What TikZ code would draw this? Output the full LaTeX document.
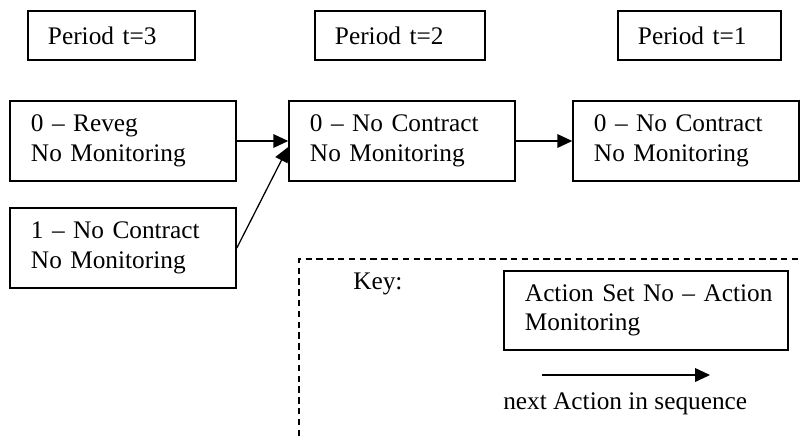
\documentclass[tikz,border=0pt]{standalone}
\usepackage{fontspec}
\setmainfont{Liberation Serif}
\usetikzlibrary{arrows.meta}

\begin{document}
\begin{tikzpicture}[x=0.025cm, y=-0.025cm,
    font=\fontsize{18}{21}\selectfont,
    period/.style={draw, line width=1.1pt, inner xsep=0.5cm, align=left, minimum height=1.225cm, text width=#1},
    act/.style={draw, line width=1.1pt, inner xsep=0.525cm, align=left, minimum height=2cm, text width=#1},
    act/.default=4.6cm,
    flow/.style={-{Triangle[length=0.37cm, width=0.34cm]}, line width=0.9pt}]
  \useasboundingbox (0,0) rectangle (801,436);
  % period headers
  \node[period=3.175cm] (p3) at (111.5,35.5) {Period t=3};
  \node[period=3.25cm]  (p2) at (400,35.5)   {Period t=2};
  \node[period=3.075cm] (p1) at (699.5,35.5) {Period t=1};
  % action sets per period
  \node[act] (a3) at (123,141) {0 -- Reveg\\No Monitoring};
  \node[act] (b3) at (123,248) {1 -- No Contract\\No Monitoring};
  \node[act] (a2) at (402,141) {0 -- No Contract\\No Monitoring};
  \node[act] (a1) at (686,141) {0 -- No Contract\\No Monitoring};
  \draw[flow] (a3) -- (a2);
  \draw[flow] (b3.east) -- ([yshift=-0.15cm]a2.west);
  \draw[flow] (a2) -- (a1);
  % key
  \coordinate (kb) at (299,436);
  \coordinate (kc) at (299,259);
  \coordinate (kr) at (801,259);
  \draw[line width=0.8pt, dash pattern=on 0.16cm off 0.11cm] (kb) -- (kc) -- (kr);
  \node[anchor=base west, inner sep=0pt] (key) at (353,289) {Key:};
  \node[act=6.05cm, minimum height=1.975cm] (keybox) at (646,310.5) {\mbox{Action Set No -- Action}\\Monitoring};
  \coordinate (k0) at (542,375);
  \coordinate (k1) at (710,375);
  \draw[flow] (k0) -- (k1);
  \node[anchor=base west, inner sep=0pt] (nxt) at (503,409) {next Action in sequence};
\end{tikzpicture}
\end{document}
